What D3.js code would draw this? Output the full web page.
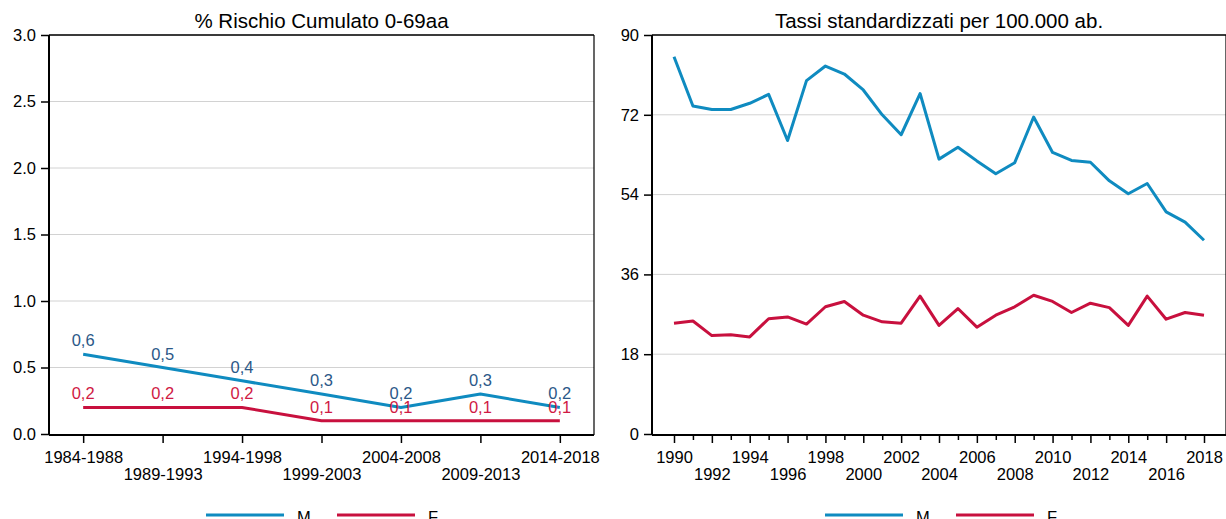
<!DOCTYPE html>
<html>
<head>
<meta charset="utf-8">
<script src="https://cdn.jsdelivr.net/npm/d3@7"></script>
<style>
  html, body { margin: 0; padding: 0; background: #fff; }
  svg { display: block; font-family: "Liberation Sans", Arial, sans-serif; }
</style>
</head>
<body>
<svg id="chart" width="1226" height="519"></svg>
<script>
// ---------- Data ----------
const periods = ["1984-1988","1989-1993","1994-1998","1999-2003","2004-2008","2009-2013","2014-2018"];
const riskM = [0.6, 0.5, 0.4, 0.3, 0.2, 0.3, 0.2];
const riskF = [0.2, 0.2, 0.2, 0.1, 0.1, 0.1, 0.1];
const riskTicks = [0, 0.5, 1.0, 1.5, 2.0, 2.5, 3.0];

const years = [1990,1991,1992,1993,1994,1995,1996,1997,1998,1999,2000,2001,2002,2003,2004,
               2005,2006,2007,2008,2009,2010,2011,2012,2013,2014,2015,2016,2017,2018];
const rateM = [85.1,74.0,73.2,73.2,74.6,76.6,66.2,79.7,83.0,81.2,77.6,72.0,67.5,76.8,62.0,
               64.7,61.6,58.7,61.2,71.5,63.5,61.7,61.3,57.1,54.2,56.5,50.1,47.8,43.7];
const rateF = [25.0,25.5,22.2,22.4,21.9,26.0,26.4,24.8,28.7,29.9,26.8,25.3,25.0,31.1,24.5,
               28.3,24.1,26.8,28.7,31.3,29.9,27.4,29.5,28.5,24.5,31.1,25.9,27.4,26.8];
const rateTicks = [0, 18, 36, 54, 72, 90];
const yearLabels = [1990,1992,1994,1996,1998,2000,2002,2004,2006,2008,2010,2012,2014,2016,2018];

const seriesNames = ["M", "F"];

// ---------- Styles ----------
const colM = "#0f8bc0";
const colF = "#c8103e";
const labM = "#2b5888";
const labF = "#d01a44";
const gridCol = "#d2d2d2";
const fontTick = 16.5;
const fontTitle = 20.5;
const FF = "Liberation Sans, Arial, sans-serif";

const svg = d3.select("#chart");

function panel(opts) {
  const g = svg.append("g");
  const {x0, x1, yTop, yBot, yScale, title} = opts;

  g.append("g").selectAll("line").data(opts.yTicks.filter(d => d !== 0)).join("line")
    .attr("x1", x0).attr("x2", x1)
    .attr("y1", d => yScale(d)).attr("y2", d => yScale(d))
    .attr("stroke", gridCol).attr("stroke-width", 1);

  g.append("line").attr("x1", x0).attr("x2", x1).attr("y1", yTop).attr("y2", yTop)
    .attr("stroke", "#000").attr("stroke-width", 1.6);
  g.append("line").attr("x1", x1).attr("x2", x1).attr("y1", yTop).attr("y2", yBot)
    .attr("stroke", "#000").attr("stroke-width", 1.2);

  g.append("text").attr("x", (x0 + x1) / 2).attr("y", 28)
    .attr("text-anchor", "middle").attr("font-size", fontTitle).attr("fill", "#000")
    .attr("font-family", FF).text(title);

  const yAxis = d3.axisLeft(yScale).tickValues(opts.yTicks).tickFormat(opts.yFormat)
    .tickSize(8).tickPadding(5);
  const ya = g.append("g").attr("transform", `translate(${x0},0)`).call(yAxis);
  ya.select(".domain").attr("d", `M0,${yTop}V${yBot}`).attr("stroke", "#000").attr("stroke-width", 2);
  ya.selectAll(".tick line").attr("stroke", "#000").attr("stroke-width", 1.5);
  ya.selectAll(".tick text").attr("font-size", fontTick).attr("fill", "#000")
    .attr("font-family", FF);

  return g;
}

// ---------- Left panel ----------
const L = {x0: 49, x1: 594, yTop: 35, yBot: 435};
const xL = d3.scalePoint().domain(periods).range([L.x0, L.x1]).padding(0.43);
const yL = d3.scaleLinear().domain([0, 3]).range([434, 35]);

const gL = panel({x0: L.x0, x1: L.x1, yTop: L.yTop, yBot: L.yBot, yScale: yL,
  yTicks: riskTicks, yFormat: d3.format(".1f"), title: "% Rischio Cumulato 0-69aa"});

const xaL = gL.append("g").attr("transform", `translate(0,${L.yBot})`)
  .call(d3.axisBottom(xL).tickSize(8).tickPadding(0));
xaL.select(".domain").attr("d", `M${L.x0},0H${L.x1}`).attr("stroke", "#000").attr("stroke-width", 2);
xaL.selectAll(".tick line").attr("stroke", "#000").attr("stroke-width", 1.5);
xaL.selectAll(".tick text").attr("font-size", fontTick).attr("fill", "#000")
  .attr("font-family", FF)
  .attr("dy", null)
  .attr("y", (d, i) => i % 2 === 0 ? 28 : 45);

const lineL = d3.line().x((d, i) => xL(periods[i])).y(d => yL(d));
gL.append("path").datum(riskM).attr("d", lineL).attr("fill", "none")
  .attr("stroke", colM).attr("stroke-width", 3).attr("stroke-linejoin", "round");
gL.append("path").datum(riskF).attr("d", lineL).attr("fill", "none")
  .attr("stroke", colF).attr("stroke-width", 3).attr("stroke-linejoin", "round");

const fmtComma = v => d3.format(".1f")(v).replace(".", ",");
gL.append("g").selectAll("text").data(riskM).join("text")
  .attr("x", (d, i) => xL(periods[i])).attr("y", d => yL(d) - 8)
  .attr("text-anchor", "middle").attr("font-size", fontTick).attr("fill", labM)
  .attr("font-family", FF).text(fmtComma);
gL.append("g").selectAll("text").data(riskF).join("text")
  .attr("x", (d, i) => xL(periods[i])).attr("y", d => yL(d) - 8)
  .attr("text-anchor", "middle").attr("font-size", fontTick).attr("fill", labF)
  .attr("font-family", FF).text(fmtComma);

// ---------- Right panel ----------
const R = {x0: 652, x1: 1226, yTop: 35, yBot: 435};
const xR = d3.scaleLinear().domain([1990, 2018]).range([674, 1204]);
const yR = d3.scaleLinear().domain([0, 90]).range([434, 35]);

const gR = panel({x0: R.x0, x1: R.x1, yTop: R.yTop, yBot: R.yBot, yScale: yR,
  yTicks: rateTicks, yFormat: d3.format("d"), title: "Tassi standardizzati per 100.000 ab."});

const xaR = gR.append("g").attr("transform", `translate(0,${R.yBot})`)
  .call(d3.axisBottom(xR).tickValues(years).tickFormat(d => yearLabels.includes(d) ? d : "")
    .tickSize(8).tickPadding(0));
xaR.select(".domain").attr("d", `M${R.x0},0H${R.x1}`).attr("stroke", "#000").attr("stroke-width", 2);
xaR.selectAll(".tick line").attr("stroke", "#000").attr("stroke-width", 1.5)
  .attr("y2", d => yearLabels.includes(d) ? 8 : 5);
xaR.selectAll(".tick text").attr("font-size", fontTick).attr("fill", "#000")
  .attr("font-family", FF)
  .attr("dy", null)
  .attr("y", d => ((d - 1990) / 2) % 2 === 0 ? 28 : 45);

const lineR = d3.line().x((d, i) => xR(years[i])).y(d => yR(d));
gR.append("path").datum(rateM).attr("d", lineR).attr("fill", "none")
  .attr("stroke", colM).attr("stroke-width", 3).attr("stroke-linejoin", "round");
gR.append("path").datum(rateF).attr("d", lineR).attr("fill", "none")
  .attr("stroke", colF).attr("stroke-width", 3).attr("stroke-linejoin", "round");

// ---------- Legends ----------
function legend(xStart) {
  const g = svg.append("g");
  const cols = [colM, colF];
  seriesNames.forEach((name, i) => {
    const lx = xStart + i * 131;
    g.append("line").attr("x1", lx).attr("x2", lx + 78).attr("y1", 515).attr("y2", 515)
      .attr("stroke", cols[i]).attr("stroke-width", 3);
    g.append("text").attr("x", lx + 91).attr("y", 523).attr("font-size", fontTick)
      .attr("fill", "#000").attr("font-family", FF).text(name);
  });
}
legend(206);
legend(825);
</script>
</body>
</html>
